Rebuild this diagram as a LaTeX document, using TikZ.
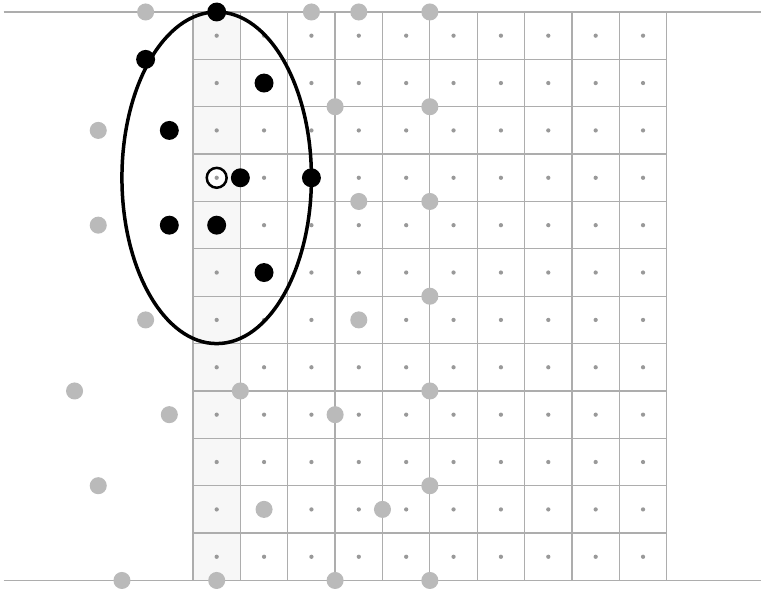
\documentclass[tikz,border=0pt]{standalone}
\usepackage{xcolor}
\usepackage{tikz}

\begin{document}
\begin{tikzpicture}[
gridline/.style={black!32, line width=0.75pt},
cellpt/.style={fill=black!40},
graydot/.style={fill=black!27},
blackdot/.style={fill=black},
opendot/.style={draw=black, line width=1.5pt},
boundary/.style={draw=black, line width=2.1pt}
]
\useasboundingbox (-4.074,-0.232) rectangle (11.99,12.253);

% --- SHADED COLUMN AND GRID ---
\fill[black!3] (0,0) rectangle (1,12);
\draw[gridline] (0,0) grid (10,12);
\draw[gridline] (-4,12) -- (12,12);
\draw[gridline] (-4,0) -- (12,0);

% cell centres
\foreach \i in {0,...,9}
  \foreach \j in {0,...,11}
    \fill[cellpt] (\i+0.5,\j+0.5) circle (0.045);

% --- GRAY SAMPLES ---
\foreach \p in {(-1,12),(2.5,12),(3.5,12),(5,12),(3,10),(5,10),(-2,9.5),
  (3.5,8),(5,8),(-2,7.5),(5,6),(-1,5.5),(3.5,5.5),(-2.5,4),(1,4),(5,4),
  (-0.5,3.5),(3,3.5),(-2,2),(5,2),(1.5,1.5),(4,1.5),(-1.5,0),(0.5,0),(3,0),(5,0)}
  \fill[graydot] \p circle (0.18);

% --- NEIGHBOURHOOD ---
\draw[boundary] (0.5,8.5) ellipse (2 and 3.5);

\foreach \p in {(0.5,12),(-1,11),(1.5,10.5),(-0.5,9.5),(1,8.5),(2.5,8.5),
  (-0.5,7.5),(0.5,7.5),(1.5,6.5)}
  \fill[blackdot] \p circle (0.2);

\draw[opendot, fill=white] (0.5,8.5) circle (0.21);
\fill[cellpt] (0.5,8.5) circle (0.045);

\end{tikzpicture}
\end{document}
